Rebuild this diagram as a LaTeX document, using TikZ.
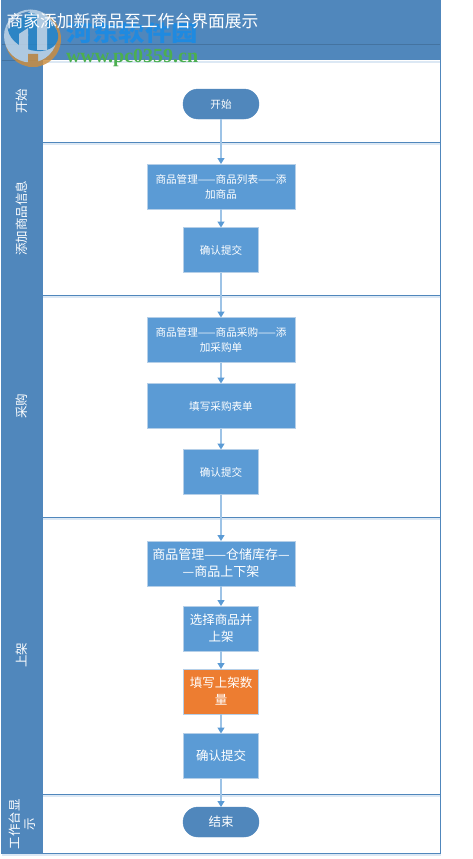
\documentclass[tikz,border=0pt]{standalone}
\usepackage{fontspec}
\setmainfont{Noto Sans CJK SC}
\newfontfamily\wmserif{Liberation Serif}
\usetikzlibrary{arrows.meta,shapes.misc}
\definecolor{band}{HTML}{5087BC}
\definecolor{boxblue}{HTML}{5B9BD5}
\definecolor{boxedge}{HTML}{B5CFE8}
\definecolor{lineblue}{HTML}{9DC3E6}
\definecolor{tipblue}{HTML}{5B9BD5}
\definecolor{orangebox}{HTML}{ED7D31}
\definecolor{logolight}{HTML}{C3D8EA}
\definecolor{logoblue}{HTML}{2585C7}
\definecolor{logoorange}{HTML}{CE8E3E}
\definecolor{softshade}{HTML}{DCE8F4}
\definecolor{wmblue}{HTML}{1F8AE0}
\definecolor{wmgreen}{HTML}{4CAF50}
\tikzset{
  x=1pt,y=-1pt,
  every node/.style={inner sep=0pt,outer sep=0pt},
  lanerule/.style={draw=band,line width=1pt},
  softrule/.style={draw=softshade,line width=2pt},
  lanelabel/.style={text=white,rotate=90,align=center,font=\fontsize{12.5}{15}\selectfont},
  boxs/.style={draw=boxedge,line width=0.8pt,fill=boxblue,text=white,align=center,minimum height=45pt,font=\fontsize{10.6}{15}\selectfont},
  boxl/.style={boxs,font=\fontsize{12.5}{17}\selectfont},
  boxw/.style={boxs,font=\fontsize{13}{17}\selectfont},
  wide/.style={minimum width=148pt},
  narrow/.style={minimum width=75pt},
  term/.style={rounded rectangle,fill=band,draw=band,text=white,minimum width=76pt,minimum height=30pt},
  flow/.style={draw=lineblue,line width=1.2pt,-{Triangle[length=6pt,width=7pt,color=tipblue]}},
}
\begin{document}
\begin{tikzpicture}
\useasboundingbox (0,0) rectangle (472,859);
\fill[white] (0,0) rectangle (472,859);
% soft shadows below the rules
\draw[softrule] (43,62) -- (440,62);
\draw[softrule] (43,144) -- (440,144);
\draw[softrule] (43,297) -- (440,297);
\draw[softrule] (43,519) -- (440,519);
\draw[softrule] (43,796) -- (440,796);
\draw[softrule] (2,855) -- (441,855);
% header and side band
\fill[band] (1.5,0) rectangle (440,60);
\draw[band!85!black,line width=0.6pt] (1.5,44) -- (440,44);
\draw[lanerule] (1.5,0) rectangle (440,853);
\fill[band] (1.5,60) rectangle (43,853);
% lane rules
\draw[lanerule] (1.5,142) -- (440,142);
\draw[lanerule] (1.5,295) -- (440,295);
\draw[lanerule] (1.5,517) -- (440,517);
\draw[lanerule] (1.5,794) -- (440,794);
\draw[band!85!black,line width=0.5pt] (1.5,60) -- (43,60);
% lane labels
\node[lanelabel] (l1) at (22,101) {开始};
\node[lanelabel] (l2) at (22,218) {添加商品信息};
\node[lanelabel] (l3) at (22,406) {采购};
\node[lanelabel] (l4) at (22,655) {上架};
\node[lanelabel] (l5) at (22,824) {工作台显\\示};
% nodes
\node[term,font=\fontsize{10.6}{12}\selectfont] (start) at (221,104) {开始};
\node[boxs,wide] (b1) at (221,186.5) {商品管理——商品列表——添\\加商品};
\node[boxs,narrow] (b2) at (221,250) {确认提交};
\node[boxs,wide] (b3) at (221,340) {商品管理——商品采购——添\\加采购单};
\node[boxs,wide] (b4) at (221,406) {填写采购表单};
\node[boxs,narrow] (b5) at (221,472) {确认提交};
\node[boxw,wide] (b6) at (221,563.5) {商品管理——仓储库存—\\—商品上下架};
\node[boxl,narrow] (b7) at (221,628.5) {选择商品并\\上架};
\node[boxl,narrow,fill=orangebox] (b8) at (221,691.5) {填写上架数\\量};
\node[boxl,narrow] (b9) at (221,756) {确认提交};
\node[term,font=\fontsize{12.5}{15}\selectfont] (end) at (221,822) {结束};
% connectors
\draw[flow] (start) -- (b1);
\draw[flow] (b1) -- (b2);
\draw[flow] (b2) -- (b3);
\draw[flow] (b3) -- (b4);
\draw[flow] (b4) -- (b5);
\draw[flow] (b5) -- (b6);
\draw[flow] (b6) -- (b7);
\draw[flow] (b7) -- (b8);
\draw[flow] (b8) -- (b9);
\draw[flow] (b9) -- (end);
% watermark logo
\begin{scope}[opacity=0.82,transparency group]
\fill[logoorange] (33,39) circle (28);
\fill[logolight] (30.5,36) circle (26.5);
\begin{scope}
\clip (33,39) circle (28);
\fill[logoorange] (28,54) rectangle (38,68);
\fill[logoblue,rotate around={-20:(33,32)}] (33,32) ellipse (26 and 18);
\fill[logolight] (19,34) rectangle (28,50);
\fill[logolight] (28,28) -- (19,34) -- (28,36) -- cycle;
\fill[logolight] (37,10) rectangle (47,50);
\fill[band] (6,11) -- (30,11) -- (16,22) -- (8,30) -- cycle;
\end{scope}
\end{scope}
\node[anchor=west,text=wmblue,xscale=1.2,font=\fontsize{22}{24}\selectfont\bfseries] (wm1) at (66,33.5) {河东软件园};
\node[anchor=west,text=wmgreen,font=\wmserif\fontsize{20}{22}\selectfont\bfseries] (wm2) at (66,57.5) {www.pc0359.cn};
% title, above the watermark
\node[anchor=west,text=white,font=\fontsize{16.8}{20}\selectfont] (title) at (6.5,21) {商家添加新商品至工作台界面展示};
\end{tikzpicture}
\end{document}
